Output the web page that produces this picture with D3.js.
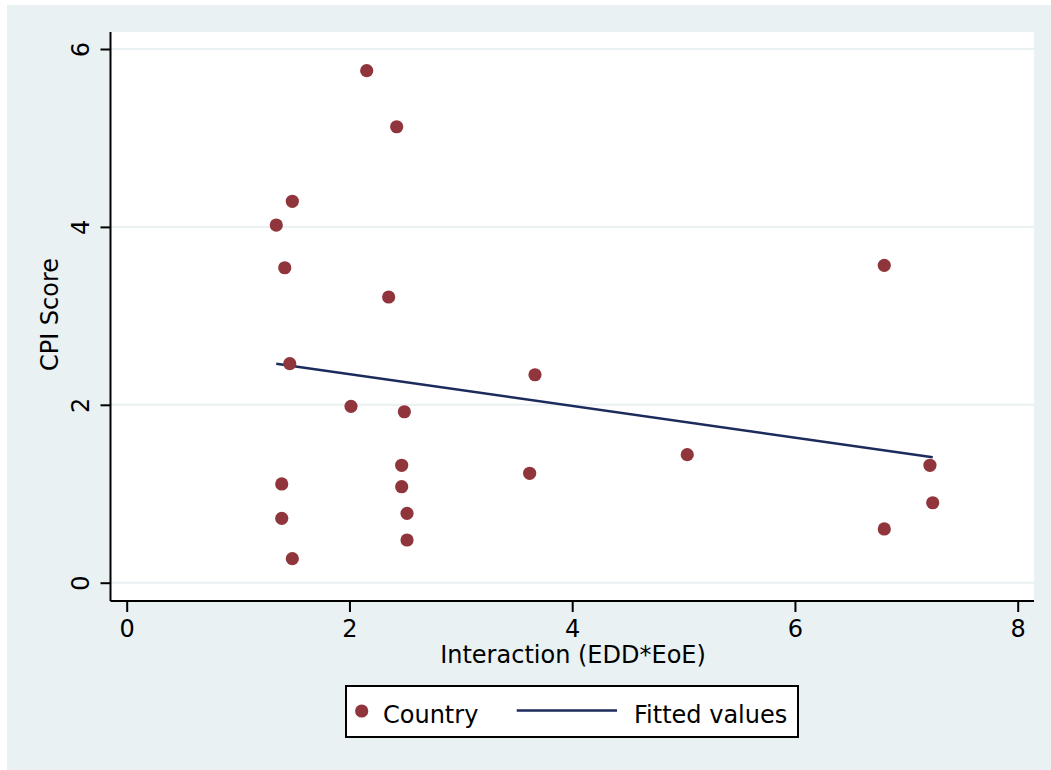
<!DOCTYPE html>
<html>
<head>
<meta charset="utf-8">
<script src="https://cdn.jsdelivr.net/npm/d3@7"></script>
<style>
  html, body { margin: 0; padding: 0; background: #ffffff; }
  svg { display: block; }
  text { font-family: "DejaVu Sans", sans-serif; fill: #000; }
</style>
</head>
<body>
<svg id="chart" width="1051" height="770"></svg>
<script>
// Country observations: interaction term (EDD*EoE) vs. CPI score
const interaction = [2.155, 2.424, 1.487, 1.343, 1.419, 2.352, 6.802, 1.464, 3.666, 2.014,
                     2.493, 5.033, 2.469, 7.212, 3.618, 1.392, 2.469, 2.517, 1.392, 7.237,
                     6.802, 2.517, 1.487];
const cpiScore    = [5.756, 5.126, 4.288, 4.021, 3.541, 3.212, 3.568, 2.462, 2.338, 1.983,
                     1.922, 1.439, 1.320, 1.320, 1.230, 1.110, 1.079, 0.780, 0.724, 0.899,
                     0.604, 0.480, 0.270];

// Fitted values (linear fit) at the ends of the observed range
const fitX = [1.343, 7.237];
const fitY = [2.462, 1.410];

const xTicks = [0, 2, 4, 6, 8];
const yTicks = [0, 2, 4, 6];

const xTitle = "Interaction (EDD*EoE)";
const yTitle = "CPI Score";
const legendLabels = ["Country", "Fitted values"];

const BG = "#e9f1f3";
const DOT = "#90353b";
const LINE = "#1b2b5b";

const svg = d3.select("#chart");

// outer graph region
svg.append("rect").attr("x", 7).attr("y", 5).attr("width", 1044).attr("height", 765).attr("fill", BG);

// plot region
const plot = { left: 110.5, right: 1034, top: 32, bottom: 601 };
svg.append("rect")
  .attr("x", plot.left).attr("y", plot.top)
  .attr("width", plot.right - plot.left).attr("height", plot.bottom - plot.top)
  .attr("fill", "#ffffff");

const x = d3.scaleLinear().domain([0, 8]).range([126.7, 1017.7]);
const y = d3.scaleLinear().domain([0, 6]).range([582.7, 49]);

// horizontal grid lines
svg.append("g").selectAll("line").data(yTicks).join("line")
  .attr("x1", plot.left).attr("x2", plot.right)
  .attr("y1", d => y(d)).attr("y2", d => y(d))
  .attr("stroke", BG).attr("stroke-width", 2);

// fitted line
const fitData = fitX.map((v, i) => [v, fitY[i]]);
svg.append("path")
  .datum(fitData)
  .attr("d", d3.line().x(d => x(d[0])).y(d => y(d[1])))
  .attr("fill", "none").attr("stroke", LINE).attr("stroke-width", 2.6);

// scatter points
svg.append("g").selectAll("circle").data(interaction.map((v, i) => [v, cpiScore[i]])).join("circle")
  .attr("cx", d => x(d[0])).attr("cy", d => y(d[1]))
  .attr("r", 6.6).attr("fill", DOT);

// x axis
const xAxis = svg.append("g")
  .attr("transform", `translate(0,${plot.bottom})`)
  .call(d3.axisBottom(x).tickValues(xTicks).tickSize(11).tickPadding(8).tickFormat(d3.format("d")));
xAxis.select(".domain").attr("d", `M${plot.left},0H${plot.right}`).attr("stroke", "#000").attr("stroke-width", 2);
xAxis.selectAll(".tick line").attr("stroke", "#000").attr("stroke-width", 2);
xAxis.selectAll(".tick text").attr("font-size", 24).attr("font-family", "DejaVu Sans").attr("fill", "#000");

// y axis with labels turned upright along the axis
const yAxis = svg.append("g")
  .attr("transform", `translate(${plot.left},0)`)
  .call(d3.axisLeft(y).tickValues(yTicks).tickSize(10).tickFormat(d3.format("d")));
yAxis.select(".domain").attr("d", `M0,${plot.top}V${plot.bottom}`).attr("stroke", "#000").attr("stroke-width", 2);
yAxis.selectAll(".tick line").attr("stroke", "#000").attr("stroke-width", 2);
yAxis.selectAll(".tick text")
  .attr("font-size", 24).attr("font-family", "DejaVu Sans").attr("fill", "#000")
  .attr("x", null).attr("dy", null)
  .attr("text-anchor", "middle")
  .attr("transform", "translate(-22,0) rotate(-90)");

// axis titles
svg.append("text")
  .attr("x", 573).attr("y", 663)
  .attr("text-anchor", "middle").attr("font-size", 24)
  .text(xTitle);
svg.append("text")
  .attr("transform", "translate(58,314.5) rotate(-90)")
  .attr("text-anchor", "middle").attr("font-size", 24)
  .text(yTitle);

// legend
const lg = svg.append("g");
lg.append("rect")
  .attr("x", 346).attr("y", 686).attr("width", 452).attr("height", 51)
  .attr("fill", "#ffffff").attr("stroke", "#000").attr("stroke-width", 2);
lg.append("circle").attr("cx", 361.7).attr("cy", 711).attr("r", 6.6).attr("fill", DOT);
lg.append("text").attr("x", 383).attr("y", 723).attr("font-size", 24).text(legendLabels[0]);
lg.append("line")
  .attr("x1", 516.7).attr("x2", 617).attr("y1", 710.5).attr("y2", 710.5)
  .attr("stroke", LINE).attr("stroke-width", 2.6);
lg.append("text").attr("x", 634).attr("y", 723).attr("font-size", 24).text(legendLabels[1]);
</script>
</body>
</html>
